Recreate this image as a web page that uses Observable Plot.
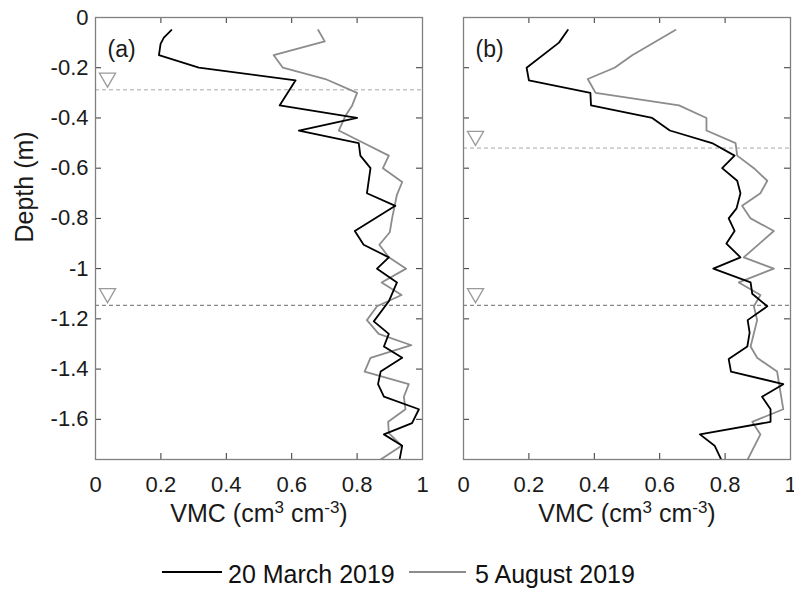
<!DOCTYPE html>
<html><head><meta charset="utf-8">
<script src="https://cdn.jsdelivr.net/npm/d3@7"></script>
<script src="https://cdn.jsdelivr.net/npm/@observablehq/plot@0.6"></script>
<style>
body{margin:0;background:#fff;}
#wrap{position:relative;width:794px;height:590px;font-family:'Liberation Sans',Arial,sans-serif;background:#fff;overflow:hidden;}
#pa{position:absolute;left:0;top:0}
#pb{position:absolute;left:430px;top:0}
.lg-line{position:absolute;height:2px;}
.lg-text{position:absolute;font-size:25px;line-height:25px;color:#111;white-space:nowrap;}
</style></head><body>
<div id="wrap"><div id="pa"></div><div id="pb"></div>
<div class="lg-line" style="left:162px;top:571px;width:60px;background:#000"></div>
<div class="lg-text" style="left:228px;top:562px">20 March 2019</div>
<div class="lg-line" style="left:409px;top:571px;width:57px;background:#8c8c8c"></div>
<div class="lg-text" style="left:475px;top:562px">5 August 2019</div>
</div>
<script>
// ---- data ----
const xTicks = [0, 0.2, 0.4, 0.6, 0.8, 1];
const yTicks = [0, -0.2, -0.4, -0.6, -0.8, -1, -1.2, -1.4, -1.6];
const yDomain = [-1.76, 0];

// panel (a) 20 March 2019
const marchA_depth = [-0.05,-0.08,-0.105,-0.15,-0.2,-0.25,-0.35,-0.40,-0.45,-0.50,-0.55,-0.60,-0.70,-0.75,-0.85,-0.905,-0.955,-1.00,-1.055,-1.13,-1.21,-1.26,-1.31,-1.355,-1.41,-1.46,-1.51,-1.56,-1.615,-1.66,-1.705,-1.76];
const marchA_vmc   = [0.232,0.209,0.199,0.194,0.316,0.612,0.563,0.80,0.622,0.805,0.81,0.841,0.83,0.917,0.793,0.82,0.897,0.861,0.922,0.897,0.851,0.897,0.882,0.938,0.872,0.864,0.882,0.989,0.968,0.882,0.938,0.93];
// panel (a) 5 August 2019
const augA_depth = [-0.05,-0.095,-0.15,-0.2,-0.245,-0.3,-0.35,-0.39,-0.45,-0.5,-0.55,-0.6,-0.655,-0.705,-0.80,-0.855,-0.905,-0.955,-1.0,-1.055,-1.105,-1.15,-1.205,-1.26,-1.305,-1.355,-1.41,-1.46,-1.51,-1.56,-1.61,-1.655,-1.705,-1.76];
const augA_vmc   = [0.681,0.701,0.545,0.573,0.703,0.80,0.785,0.765,0.744,0.82,0.897,0.879,0.938,0.922,0.907,0.90,0.868,0.897,0.95,0.875,0.936,0.861,0.83,0.866,0.966,0.841,0.823,0.958,0.943,0.948,0.895,0.897,0.936,0.872];
// panel (b) 20 March 2019
const marchB_depth = [-0.05,-0.1,-0.2,-0.25,-0.3,-0.35,-0.4,-0.45,-0.5,-0.55,-0.6,-0.65,-0.7,-0.76,-0.8,-0.85,-0.9,-0.955,-1.0,-1.055,-1.1,-1.15,-1.205,-1.255,-1.31,-1.36,-1.41,-1.46,-1.51,-1.56,-1.61,-1.66,-1.705,-1.76];
const marchB_vmc   = [0.319,0.292,0.193,0.20,0.388,0.39,0.577,0.631,0.76,0.829,0.791,0.837,0.847,0.835,0.811,0.829,0.804,0.847,0.764,0.878,0.883,0.929,0.869,0.875,0.868,0.811,0.818,0.978,0.913,0.939,0.939,0.723,0.768,0.788];
// panel (b) 5 August 2019
const augB_depth = [-0.05,-0.15,-0.2,-0.245,-0.3,-0.35,-0.4,-0.45,-0.5,-0.55,-0.6,-0.65,-0.7,-0.75,-0.8,-0.85,-0.955,-1.0,-1.055,-1.105,-1.15,-1.205,-1.31,-1.355,-1.41,-1.56,-1.61,-1.66,-1.76];
const augB_vmc   = [0.648,0.516,0.462,0.38,0.404,0.659,0.743,0.743,0.832,0.837,0.888,0.929,0.908,0.852,0.878,0.949,0.857,0.949,0.842,0.908,0.888,0.898,0.878,0.898,0.959,0.978,0.883,0.908,0.869];
// water table depths
const wtA = [-0.288, -1.146];
const wtB = [-0.52, -1.146];
const panelTags = ["(a)", "(b)"];
const xTitle = "VMC (cm3 cm-3)";
const yTitle = "Depth (m)";

// ---- layout ----
const H = 442, W = 327, MT = 17, MB = 81;
const fmt = d => String(d);

function panel({tag, mDepth, mVmc, aDepth, aVmc, wt, showY, width, marginLeft, marginRight}) {
  const marks = [
    Plot.ruleY([wt[0]], {y: d => d, stroke: "#a8a8a8", strokeWidth: 1, strokeDasharray: "4,3"}),
    Plot.ruleY([wt[1]], {y: d => d, stroke: "#6a6a6a", strokeWidth: 1, strokeDasharray: "4,3"}),
    Plot.dot(wt, {y: d => d, frameAnchor: "left", dx: 12, dy: -12, symbol: "triangle", rotate: 180, r: 6, stroke: "#9a9a9a", fill: "white", strokeWidth: 1.3}),
    Plot.line(aDepth, {x: (d, i) => aVmc[i], y: d => d, stroke: "#8c8c8c", strokeWidth: 1.8, clip: true}),
    Plot.line(mDepth, {x: (d, i) => mVmc[i], y: d => d, stroke: "#000", strokeWidth: 1.8, clip: true}),
    Plot.ruleX(xTicks, {x: d => d, insetTop: H - 6, stroke: "#333"}),
    Plot.ruleX(xTicks, {x: d => d, insetBottom: H - 6, stroke: "#333"}),
    Plot.ruleY(yTicks, {y: d => d, insetRight: W - 6, stroke: "#333"}),
    Plot.ruleY(yTicks, {y: d => d, insetLeft: W - 6, stroke: "#333"}),
    Plot.frame({stroke: "#808080", strokeWidth: 1.3}),
    Plot.axisX(xTicks, {tickSize: 0, tickPadding: 17, tickFormat: fmt, fontSize: 22, label: null}),
    Plot.text([xTitle], {frameAnchor: "bottom", text: d => d, dy: 62, fontSize: 25}),
    Plot.text([tag], {frameAnchor: "top-left", text: d => d, dx: 12, dy: 23, textAnchor: "start", fontSize: 23})
  ];
  if (showY) {
    marks.push(Plot.axisY(yTicks, {tickSize: 0, tickPadding: 7, tickFormat: fmt, fontSize: 22, label: null}));
    marks.push(Plot.text([yTitle], {frameAnchor: "left", text: d => d, rotate: -90, dx: -71, dy: 4, fontSize: 25}));
  }
  const svg = Plot.plot({
    width, height: MT + H + MB,
    marginLeft, marginRight, marginTop: MT, marginBottom: MB,
    x: {domain: [0, 1], axis: showY ? undefined : undefined},
    y: {domain: yDomain, axis: null},
    style: {fontFamily: "'Liberation Sans', Arial, sans-serif", fontSize: "22px", color: "#1a1a1a", background: "white", overflow: "visible"},
    marks
  });
  // superscripts in the x title
  svg.querySelectorAll("text").forEach(t => {
    if (t.textContent === xTitle) {
      while (t.firstChild) t.removeChild(t.firstChild);
      const ns = "http://www.w3.org/2000/svg";
      const parts = [["VMC (cm", 0, null], ["3", -9, "17px"], [" cm", 9, null], ["-3", -9, "17px"], [")", 9, null]];
      parts.forEach(([s, dy, fs]) => {
        const ts = document.createElementNS(ns, "tspan");
        ts.textContent = s;
        if (dy) ts.setAttribute("dy", dy);
        if (fs) ts.setAttribute("font-size", fs);
        t.appendChild(ts);
      });
    }
  });
  return svg;
}

document.getElementById("pa").appendChild(panel({
  tag: panelTags[0], mDepth: marchA_depth, mVmc: marchA_vmc, aDepth: augA_depth, aVmc: augA_vmc,
  wt: wtA, showY: true, width: 430, marginLeft: 95, marginRight: 8
}));
document.getElementById("pb").appendChild(panel({
  tag: panelTags[1], mDepth: marchB_depth, mVmc: marchB_vmc, aDepth: augB_depth, aVmc: augB_vmc,
  wt: wtB, showY: false, width: 364, marginLeft: 33, marginRight: 4
}));
</script>
</body></html>
